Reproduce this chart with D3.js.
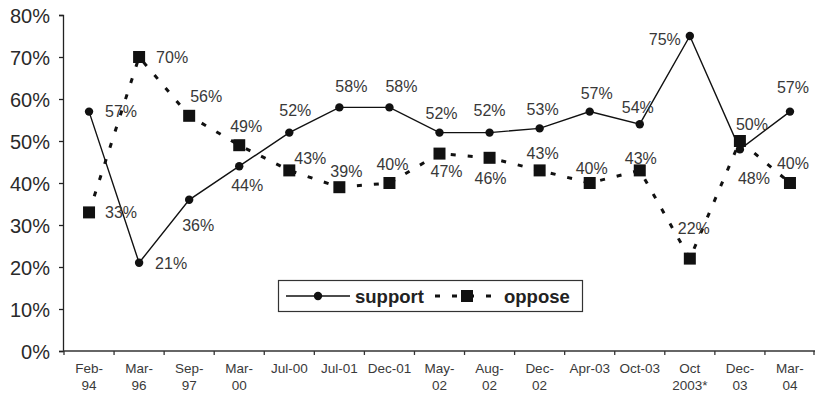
<!DOCTYPE html>
<html>
<head>
<meta charset="utf-8">
<script src="https://cdn.jsdelivr.net/npm/d3@7"></script>
<style>
  html, body { margin: 0; padding: 0; background: #fff; }
  svg { display: block; font-family: "Liberation Sans", Arial, sans-serif; }
</style>
</head>
<body>
<svg id="chart" width="816" height="395"></svg>
<script>
// Survey dates (two-line tick labels split on "\n")
const categories = ["Feb-\n94", "Mar-\n96", "Sep-\n97", "Mar-\n00", "Jul-00", "Jul-01", "Dec-01",
  "May-\n02", "Aug-\n02", "Dec-\n02", "Apr-03", "Oct-03", "Oct\n2003*", "Dec-\n03", "Mar-\n04"];
const supportValues = [57, 21, 36, 44, 52, 58, 58, 52, 52, 53, 57, 54, 75, 48, 57];
const opposeValues  = [33, 70, 56, 49, 43, 39, 40, 47, 46, 43, 40, 43, 22, 50, 40];
const yTicks = [0, 10, 20, 30, 40, 50, 60, 70, 80];
const seriesNames = ["support", "oppose"];

// Label placement relative to each marker [dx, dy]
const supportLabelOffset = [[32,0],[32,0],[9,25],[8,19],[6,-22],[12,-21],[12,-21],[2,-19],[0,-22],[3,-19],[7,-18],[-2,-17],[-25,3],[14,29],[3,-24]];
const opposeLabelOffset  = [[32,0],[33,0],[17,-20],[7,-19],[21,-12],[7,-16],[3,-19],[7,18],[1,20],[3,-17],[2,-15],[1,-12],[4,-30],[12,-17],[3,-20]];

const svg = d3.select("#chart");
const plotLeft = 64, plotRight = 815, plotTop = 15, plotBottom = 351;

const x = d3.scaleBand().domain(d3.range(categories.length)).range([plotLeft, plotRight]).padding(0);
const y = d3.scaleLinear().domain([0, 80]).range([plotBottom, plotTop]);
const cx = i => x(i) + x.bandwidth() / 2;

// Y axis
const yAxis = d3.axisLeft(y).tickValues(yTicks).tickSize(4).tickFormat(d => d + "%");
const gy = svg.append("g").attr("transform", `translate(${plotLeft - 1},0)`).call(yAxis);
gy.select(".domain").attr("stroke", "#222").attr("stroke-width", 1.3);
gy.selectAll(".tick line").attr("stroke", "#222").attr("stroke-width", 1.3);
gy.selectAll(".tick text").attr("x", -13).attr("fill", "#2a2a2a")
  .style("font-size", "20px").style("font-family", "Liberation Sans, Arial, sans-serif")
  .attr("dy", "0.36em");

// X axis with tick marks at category boundaries
const gx = svg.append("g").attr("transform", `translate(0,${plotBottom})`);
gx.append("line").attr("x1", plotLeft - 1).attr("x2", plotRight).attr("y1", 0).attr("y2", 0)
  .attr("stroke", "#333").attr("stroke-width", 1.3);
gx.selectAll("line.tk").data(d3.range(categories.length + 1)).join("line")
  .attr("class", "tk")
  .attr("x1", i => i < categories.length ? x(i) : plotRight - 1)
  .attr("x2", i => i < categories.length ? x(i) : plotRight - 1)
  .attr("y1", 0).attr("y2", 4).attr("stroke", "#333").attr("stroke-width", 1.3);
const xl = gx.selectAll("text.xl").data(categories).join("text")
  .attr("class", "xl")
  .attr("text-anchor", "middle")
  .attr("fill", "#3a3a3a")
  .style("font-size", "13.5px");
xl.each(function (d, i) {
  const t = d3.select(this);
  d.split("\n").forEach((part, k) => {
    t.append("tspan").attr("x", cx(i)).attr("y", 22 + k * 17).text(part);
  });
});

// Support series: solid line with round markers
const line = d3.line().x((d, i) => cx(i)).y(d => y(d));
svg.append("path").datum(supportValues).attr("d", line)
  .attr("fill", "none").attr("stroke", "#111").attr("stroke-width", 1.4);
svg.selectAll("circle.sup").data(supportValues).join("circle")
  .attr("class", "sup").attr("cx", (d, i) => cx(i)).attr("cy", d => y(d))
  .attr("r", 4.2).attr("fill", "#111");

// Oppose series: heavy dashed line with square markers
svg.append("path").datum(opposeValues).attr("d", line)
  .attr("fill", "none").attr("stroke", "#111").attr("stroke-width", 3)
  .attr("stroke-dasharray", "5,12");
const sq = 12;
svg.selectAll("rect.opp").data(opposeValues).join("rect")
  .attr("class", "opp").attr("x", (d, i) => cx(i) - sq / 2).attr("y", d => y(d) - sq / 2)
  .attr("width", sq).attr("height", sq).attr("fill", "#111");

// Value labels
function labels(values, offsets, cls) {
  svg.selectAll("text." + cls).data(values).join("text")
    .attr("class", cls)
    .attr("x", (d, i) => cx(i) + offsets[i][0])
    .attr("y", (d, i) => y(d) + offsets[i][1])
    .attr("dy", "0.36em")
    .attr("text-anchor", "middle")
    .attr("fill", "#383838")
    .style("font-size", "16px")
    .text(d => d + "%");
}
labels(supportValues, supportLabelOffset, "lsup");
labels(opposeValues, opposeLabelOffset, "lopp");

// Legend
const lg = svg.append("g");
lg.append("rect").attr("x", 278.5).attr("y", 280.5).attr("width", 304).attr("height", 31)
  .attr("fill", "#fff").attr("stroke", "#333").attr("stroke-width", 1.2);
const ly = 296;
lg.append("line").attr("x1", 286).attr("x2", 350).attr("y1", ly).attr("y2", ly)
  .attr("stroke", "#111").attr("stroke-width", 1.4);
lg.append("circle").attr("cx", 318).attr("cy", ly).attr("r", 4.2).attr("fill", "#111");
lg.append("text").attr("x", 355).attr("y", ly).attr("dy", "0.36em")
  .style("font-size", "18.5px").style("font-weight", "bold").attr("fill", "#222")
  .text(seriesNames[0]);
lg.append("line").attr("x1", 435).attr("x2", 498).attr("y1", ly).attr("y2", ly)
  .attr("stroke", "#111").attr("stroke-width", 3).attr("stroke-dasharray", "5,12");
lg.append("rect").attr("x", 467 - 6).attr("y", ly - 6).attr("width", 12).attr("height", 12)
  .attr("fill", "#111");
lg.append("text").attr("x", 504).attr("y", ly).attr("dy", "0.36em")
  .style("font-size", "18.5px").style("font-weight", "bold").attr("fill", "#222")
  .text(seriesNames[1]);
</script>
</body>
</html>
